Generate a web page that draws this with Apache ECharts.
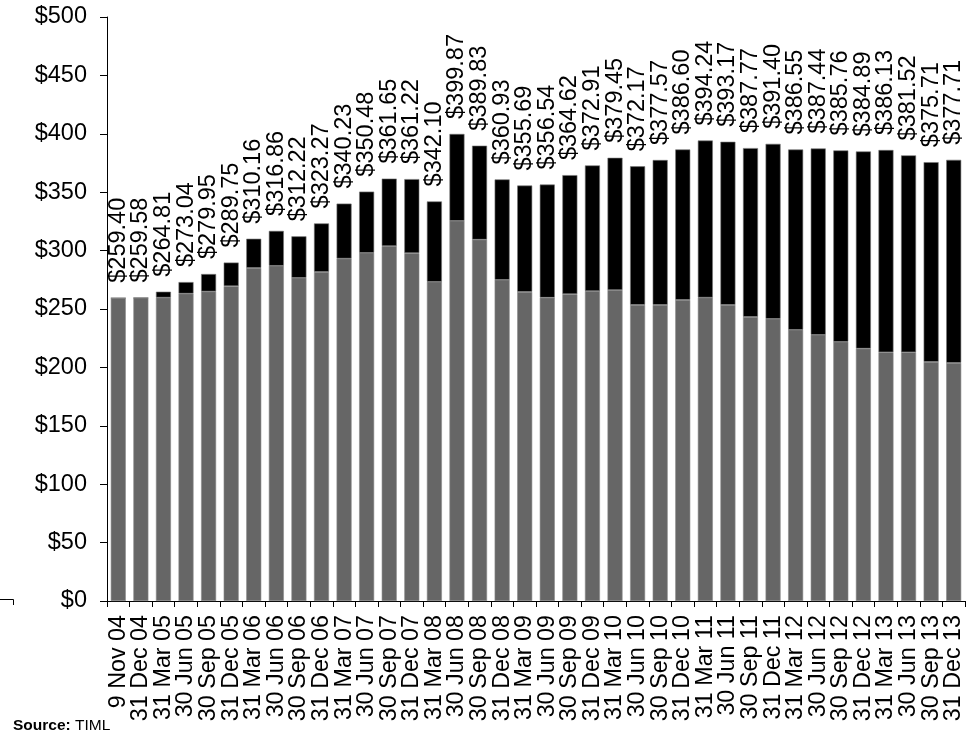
<!DOCTYPE html>
<html>
<head>
<meta charset="utf-8">
<script src="https://cdn.jsdelivr.net/npm/echarts@6/dist/echarts.min.js"></script>
<style>
  html, body { margin: 0; padding: 0; background: #ffffff; }
  #chart { width: 979px; height: 732px; }
</style>
</head>
<body>
<div id="chart"></div>
<script>
// Period ends
const periods = [
  '9 Nov 04', '31 Dec 04',
  '31 Mar 05', '30 Jun 05', '30 Sep 05', '31 Dec 05',
  '31 Mar 06', '30 Jun 06', '30 Sep 06', '31 Dec 06',
  '31 Mar 07', '30 Jun 07', '30 Sep 07', '31 Dec 07',
  '31 Mar 08', '30 Jun 08', '30 Sep 08', '31 Dec 08',
  '31 Mar 09', '30 Jun 09', '30 Sep 09', '31 Dec 09',
  '31 Mar 10', '30 Jun 10', '30 Sep 10', '31 Dec 10',
  '31 Mar 11', '30 Jun 11', '30 Sep 11', '31 Dec 11',
  '31 Mar 12', '30 Jun 12', '30 Sep 12', '31 Dec 12',
  '31 Mar 13', '30 Jun 13', '30 Sep 13', '31 Dec 13'
];

// Total value per period (labelled above each bar)
const totals = [
  259.40, 259.58,
  264.81, 273.04, 279.95, 289.75,
  310.16, 316.86, 312.22, 323.27,
  340.23, 350.48, 361.65, 361.22,
  342.10, 399.87, 389.83, 360.93,
  355.69, 356.54, 364.62, 372.91,
  379.45, 372.17, 377.57, 386.60,
  394.24, 393.17, 387.77, 391.40,
  386.55, 387.44, 385.76, 384.89,
  386.13, 381.52, 375.71, 377.71
];

// Lower (grey) component per period
const baseValues = [
  259.40, 259.58,
  259.8, 263.2, 265.0, 269.6,
  285.2, 287.0, 276.7, 281.8,
  293.2, 298.1, 303.9, 297.8,
  273.3, 325.5, 309.4, 275.0,
  264.7, 259.7, 262.7, 265.4,
  266.3, 253.5, 253.5, 257.8,
  259.8, 253.5, 243.3, 241.6,
  232.2, 227.9, 221.9, 216.1,
  213.0, 213.0, 204.7, 203.9
];

// Upper (black) component: remainder of the total
const topValues = totals.map((t, i) => +(t - baseValues[i]).toFixed(2));

const yTicks = { min: 0, max: 500, step: 50 };

const FONT = '"Liberation Sans", Arial, sans-serif';

const chart = echarts.init(document.getElementById('chart'), null, { renderer: 'canvas' });

chart.setOption({
  animation: false,
  backgroundColor: '#ffffff',
  grid: { left: 107, right: 14, top: 17, bottom: 131, containLabel: false },
  xAxis: {
    type: 'category',
    data: periods,
    boundaryGap: true,
    axisLine: { show: true, lineStyle: { color: '#000000', width: 1 } },
    axisTick: { show: true, length: 6, alignWithLabel: false, interval: 0, lineStyle: { color: '#000000' } },
    axisLabel: {
      interval: 0,
      rotate: 90,
      margin: 14,
      color: '#000000',
      fontFamily: FONT,
      fontSize: 23.3
    },
    splitLine: { show: false }
  },
  yAxis: {
    type: 'value',
    min: yTicks.min,
    max: yTicks.max,
    interval: yTicks.step,
    axisLine: { show: true, lineStyle: { color: '#000000', width: 1 } },
    axisTick: { show: true, length: 7, lineStyle: { color: '#000000' } },
    axisLabel: {
      margin: 20,
      color: '#000000',
      fontFamily: FONT,
      fontSize: 23.5,
      formatter: v => '$' + v
    },
    splitLine: { show: false }
  },
  series: [
    {
      name: 'base',
      type: 'bar',
      stack: 'total',
      data: baseValues,
      barWidth: 15,
      itemStyle: { color: '#666666', borderColor: '#8a8a8a', borderWidth: 0.6 }
    },
    {
      name: 'top',
      type: 'bar',
      stack: 'total',
      data: topValues,
      barWidth: 15,
      itemStyle: { color: '#000000', borderColor: '#777777', borderWidth: 0.6 },
      label: {
        show: true,
        position: 'top',
        rotate: 90,
        align: 'left',
        verticalAlign: 'middle',
        distance: 15,
        color: '#000000',
        fontFamily: FONT,
        fontSize: 23.5,
        formatter: p => '$' + totals[p.dataIndex].toFixed(2)
      }
    }
  ],
  graphic: [
    {
      type: 'polyline',
      shape: { points: [[0, 599.5], [13.5, 599.5], [13.5, 605]] },
      style: { stroke: '#000000', lineWidth: 1, fill: null }
    },
    {
      type: 'text',
      left: 13,
      top: 718,
      style: {
        text: '{b|Source:} TIML',
        fontFamily: FONT,
        fontSize: 15.5,
        fill: '#000000',
        rich: {
          b: { fontWeight: 'bold', fontFamily: FONT, fontSize: 15.5, fill: '#000000' }
        }
      }
    }
  ]
});
</script>
</body>
</html>
